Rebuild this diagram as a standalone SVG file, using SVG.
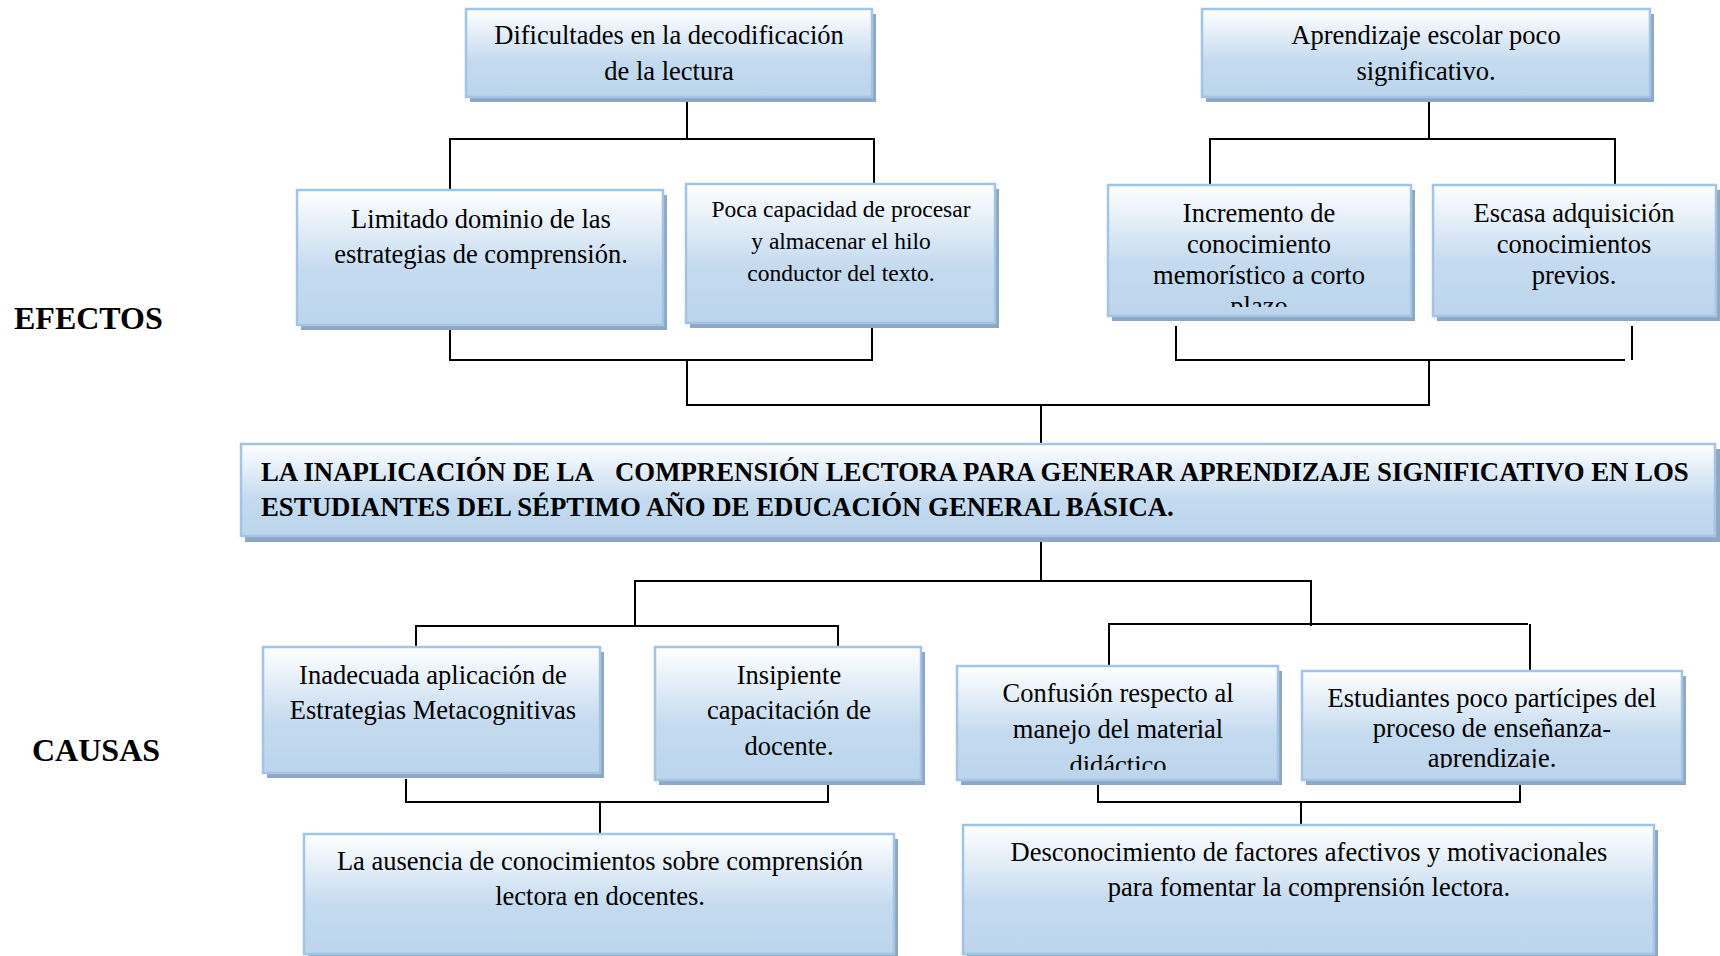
<svg xmlns="http://www.w3.org/2000/svg" width="1720" height="956" viewBox="0 0 1720 956">
<defs>
<linearGradient id="g" x1="0" y1="0" x2="0" y2="1">
<stop offset="0" stop-color="#ffffff"/>
<stop offset="0.6" stop-color="#c4daef"/>
<stop offset="1" stop-color="#bcd5ec"/>
</linearGradient>
<clipPath id="cInc"><rect x="1108" y="185" width="305" height="122"/></clipPath>
<clipPath id="cConf"><rect x="957" y="666" width="323" height="104"/></clipPath>
<clipPath id="cEst"><rect x="1302" y="671" width="382" height="97"/></clipPath>
</defs>
<style>
.sh{fill:#8fa7c0}
.bx{fill:url(#g);stroke:#a2c4e7;stroke-width:2.5}
.t{font-family:"Liberation Serif","Times New Roman",serif;font-size:26.5px;fill:#000;text-anchor:middle}
.ts{font-family:"Liberation Serif","Times New Roman",serif;font-size:23.5px;fill:#000;text-anchor:middle}
.tb{font-family:"Liberation Serif","Times New Roman",serif;font-size:26.8px;font-weight:bold;fill:#000}
.lbl{font-family:"Liberation Serif","Times New Roman",serif;font-size:32px;font-weight:bold;fill:#000}
.c{fill:none;stroke:#000;stroke-width:2}
</style>
<rect width="1720" height="956" fill="#ffffff"/>

<g id="connectors">
<polyline class="c" points="687,101 687,139"/>
<polyline class="c" points="450,208 450,139 874,139 874,203"/>
<polyline class="c" points="1429,101 1429,139"/>
<polyline class="c" points="1210,199 1210,139 1615,139 1615,185"/>
<polyline class="c" points="450,326 450,360 872,360 872,326"/>
<polyline class="c" points="1176,326 1176,360 1625,360"/>
<polyline class="c" points="1632,326 1632,360"/>
<polyline class="c" points="687,360 687,405 1429,405 1429,360"/>
<polyline class="c" points="1041,405 1041,444"/>
<polyline class="c" points="1041,540 1041,581"/>
<polyline class="c" points="635,626 635,581 1311,581 1311,626"/>
<polyline class="c" points="416,647 416,626 838,626 838,647"/>
<polyline class="c" points="1109,667 1109,624 1528,624"/>
<polyline class="c" points="1530,624 1530,670"/>
<polyline class="c" points="406,779 406,802 828,802 828,783"/>
<polyline class="c" points="600,802 600,834"/>
<polyline class="c" points="1098,783 1098,802 1520,802 1520,783"/>
<polyline class="c" points="1301,802 1301,825"/>
</g>

<g id="lbl-efectos"><text class="lbl" x="14" y="329">EFECTOS</text></g>
<g id="lbl-causas"><text class="lbl" x="32" y="761">CAUSAS</text></g>

<g id="n-dificultades">
<rect class="sh" x="470" y="14" width="406" height="88"/>
<rect class="bx" x="466" y="9" width="406" height="88"/>
<text class="t" x="669" y="44">Dificultades en la decodificación</text>
<text class="t" x="669" y="80">de la lectura</text>
</g>

<g id="n-aprendizaje">
<rect class="sh" x="1206" y="14" width="448" height="88"/>
<rect class="bx" x="1202" y="9" width="448" height="88"/>
<text class="t" x="1426" y="44">Aprendizaje escolar poco</text>
<text class="t" x="1426" y="80">significativo.</text>
</g>

<g id="n-limitado">
<rect class="sh" x="301" y="195" width="366" height="135"/>
<rect class="bx" x="297" y="190" width="366" height="135"/>
<text class="t" x="481" y="228">Limitado dominio de las</text>
<text class="t" x="481" y="263">estrategias de comprensión.</text>
</g>

<g id="n-poca">
<rect class="sh" x="690" y="189" width="309" height="139"/>
<rect class="bx" x="686" y="184" width="309" height="139"/>
<text class="ts" x="841" y="217">Poca capacidad de procesar</text>
<text class="ts" x="841" y="249">y almacenar el hilo</text>
<text class="ts" x="841" y="281">conductor del texto.</text>
</g>

<g id="n-incremento">
<rect class="sh" x="1112" y="190" width="303" height="131"/>
<rect class="bx" x="1108" y="185" width="303" height="131"/>
<g clip-path="url(#cInc)">
<text class="t" x="1259" y="222">Incremento de</text>
<text class="t" x="1259" y="253">conocimiento</text>
<text class="t" x="1259" y="284">memorístico a corto</text>
<text class="t" x="1259" y="315">plazo</text>
</g>
</g>

<g id="n-escasa">
<rect class="sh" x="1437" y="190" width="283" height="131"/>
<rect class="bx" x="1433" y="185" width="283" height="131"/>
<text class="t" x="1574" y="222">Escasa adquisición</text>
<text class="t" x="1574" y="253">conocimientos</text>
<text class="t" x="1574" y="284">previos.</text>
</g>

<g id="n-central">
<rect class="sh" x="245" y="449" width="1475" height="93"/>
<rect class="bx" x="241" y="444" width="1474" height="92"/>
<text class="tb" x="261" y="481">LA INAPLICACIÓN DE LA <tspan x="615">COMPRENSIÓN LECTORA PARA GENERAR APRENDIZAJE SIGNIFICATIVO EN LOS</tspan></text>
<text class="tb" x="261" y="516">ESTUDIANTES DEL SÉPTIMO AÑO DE EDUCACIÓN GENERAL BÁSICA.</text>
</g>

<g id="n-inadecuada">
<rect class="sh" x="267" y="652" width="337" height="126"/>
<rect class="bx" x="263" y="647" width="337" height="126"/>
<text class="t" x="433" y="684">Inadecuada aplicación de</text>
<text class="t" x="433" y="719">Estrategias Metacognitivas</text>
</g>

<g id="n-insipiente">
<rect class="sh" x="659" y="652" width="266" height="133"/>
<rect class="bx" x="655" y="647" width="266" height="133"/>
<text class="t" x="789" y="684">Insipiente</text>
<text class="t" x="789" y="719">capacitación de</text>
<text class="t" x="789" y="755">docente.</text>
</g>

<g id="n-confusion">
<rect class="sh" x="961" y="671" width="321" height="114"/>
<rect class="bx" x="957" y="666" width="321" height="114"/>
<g clip-path="url(#cConf)">
<text class="t" x="1118" y="702">Confusión respecto al</text>
<text class="t" x="1118" y="738">manejo del material</text>
<text class="t" x="1118" y="774">didáctico</text>
</g>
</g>

<g id="n-estudiantes">
<rect class="sh" x="1306" y="676" width="380" height="109"/>
<rect class="bx" x="1302" y="671" width="380" height="109"/>
<g clip-path="url(#cEst)">
<text class="t" x="1492" y="707">Estudiantes poco partícipes del</text>
<text class="t" x="1492" y="737">proceso de enseñanza-</text>
<text class="t" x="1492" y="767">aprendizaje.</text>
</g>
</g>

<g id="n-ausencia">
<rect class="sh" x="308" y="839" width="590" height="125"/>
<rect class="bx" x="304" y="834" width="590" height="120"/>
<text class="t" x="600" y="870">La ausencia de conocimientos sobre comprensión</text>
<text class="t" x="600" y="905">lectora en docentes.</text>
</g>

<g id="n-desconocimiento">
<rect class="sh" x="967" y="830" width="691" height="134"/>
<rect class="bx" x="963" y="825" width="691" height="129"/>
<text class="t" x="1309" y="861">Desconocimiento de factores afectivos y motivacionales</text>
<text class="t" x="1309" y="896">para fomentar la comprensión lectora.</text>
</g>
</svg>
